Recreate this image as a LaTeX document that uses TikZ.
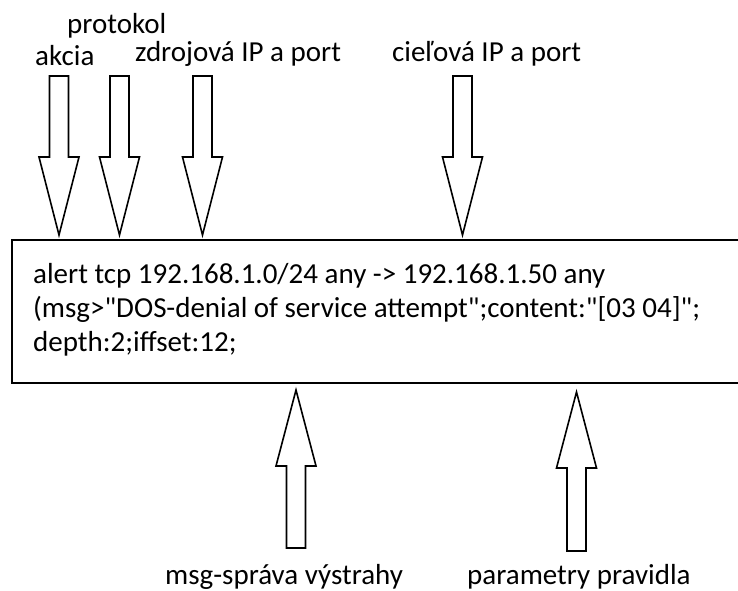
\documentclass[tikz,border=0pt]{standalone}
\usepackage{fontspec}
\setmainfont{Carlito}[Ligatures=TeXOff]
\begin{document}
\begin{tikzpicture}[x=1pt,y=-1pt,
	lbl/.style={anchor=base west,inner sep=0pt,font=\fontsize{29}{34}\selectfont},
	blockarrow/.style={draw=black,line width=1.6pt,fill=white,line join=miter}]
	\useasboundingbox (0,0) rectangle (738,590);
	\clip (0,0) rectangle (738,590);
	% box with the rule
	\draw [black,line width=2.6pt] (12,240) rectangle (760,383);
	\node [lbl] (line1) at (33,283) {alert tcp 192.168.1.0/24 any -> 192.168.1.50 any};
	\node [lbl] (line2) at (33,317) {(msg>"DOS-denial of service attempt";content:"[03 04]";};
	\node [lbl] (line3) at (33,351) {depth:2;iffset:12;};
	% labels on top
	\node [lbl] (akcia) at (35,65) {akcia};
	\node [lbl] (protokol) at (67,33) {protokol};
	\node [lbl] (zdroj) at (135,61) {zdrojová IP a port};
	\node [lbl] (ciel) at (392,61) {cieľová IP a port};
	% labels below
	\node [lbl] (msg) at (165,584) {msg-správa výstrahy};
	\node [lbl] (param) at (467,584) {parametry pravidla};
	% arrows down to the rule
	\foreach \x in {59,119.5,202.5,462.5}
		\draw [blockarrow] ({\x-9.5},76) -- ({\x+9.5},76) -- ({\x+9.5},157) -- ({\x+20},157)
			-- (\x,235) -- ({\x-20},157) -- ({\x-9.5},157) -- cycle;
	% arrows up to the rule
	\foreach \x/\t/\h/\b in {296/390/466/548,576.5/392/468/551}
		\draw [blockarrow] ({\x-9.5},\b) -- ({\x+9.5},\b) -- ({\x+9.5},\h) -- ({\x+20},\h)
			-- (\x,\t) -- ({\x-20},\h) -- ({\x-9.5},\h) -- cycle;
\end{tikzpicture}
\end{document}
